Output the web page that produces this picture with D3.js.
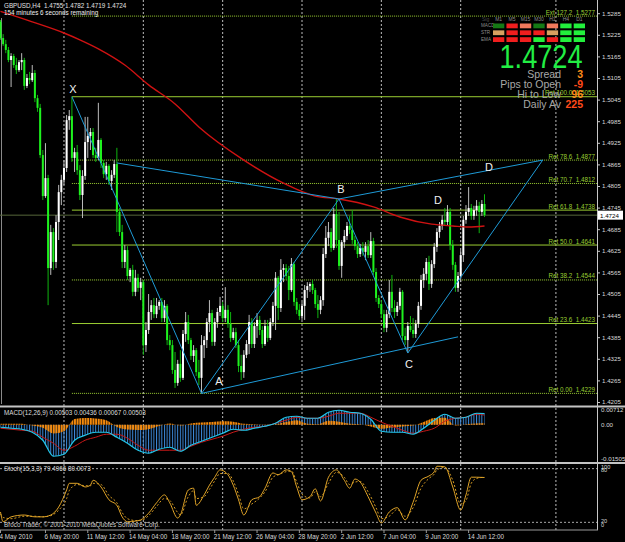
<!DOCTYPE html>
<html>
<head>
<meta charset="utf-8">
<script src="https://cdn.jsdelivr.net/npm/d3@7"></script>
<style>
  html, body { margin: 0; padding: 0; background: #000; }
  svg { display: block; }
</style>
</head>
<body>
<div id="chart"></div>
<script>
// GBPUSD H4 candles, 4 May 2010 00:00 .. 15 Jun 2010 12:00  [open, high, low, close]
const candles = [
  [1.5261,1.5266,1.5211,1.5216],[1.5216,1.5227,1.5194,1.5199],[1.5199,1.5211,1.5174,1.5183],[1.5183,1.5191,1.5149,1.5155],
  [1.5155,1.5174,1.5080,1.5166],[1.5166,1.5172,1.5133,1.5141],[1.5141,1.5161,1.5116,1.5127],[1.5127,1.5155,1.5122,1.5149],
  [1.5149,1.5174,1.5127,1.5155],[1.5155,1.5161,1.5072,1.5083],[1.5083,1.5116,1.5077,1.5105],[1.5105,1.5122,1.5088,1.5099],
  [1.5099,1.5141,1.5094,1.5119],[1.5119,1.5127,1.5038,1.5049],[1.5049,1.5058,1.5011,1.5022],[1.5022,1.5033,1.4883,1.4891],
  [1.4891,1.4905,1.4766,1.4777],[1.4777,1.4924,1.4772,1.4827],[1.4827,1.4836,1.4474,1.4577],[1.4577,1.4697,1.4558,1.4677],
  [1.4677,1.4688,1.4572,1.4594],[1.4594,1.4724,1.4577,1.4705],[1.4705,1.4808,1.4655,1.4788],[1.4788,1.4836,1.4752,1.4822],
  [1.4822,1.4877,1.4808,1.4855],[1.4855,1.5002,1.4844,1.4988],[1.4988,1.5016,1.4961,1.4999],[1.4999,1.5053,1.4872,1.4883],
  [1.4883,1.4911,1.4844,1.4899],[1.4899,1.4919,1.4836,1.4849],[1.4849,1.4863,1.4766,1.4780],[1.4780,1.4849,1.4716,1.4833],
  [1.4833,1.4997,1.4822,1.4927],[1.4927,1.4997,1.4883,1.4944],[1.4944,1.4966,1.4905,1.4955],[1.4955,1.4966,1.4883,1.4891],
  [1.4891,1.4911,1.4872,1.4883],[1.4883,1.5036,1.4877,1.4933],[1.4933,1.4938,1.4855,1.4869],[1.4869,1.4877,1.4827,1.4838],
  [1.4838,1.4872,1.4822,1.4861],[1.4861,1.4866,1.4808,1.4819],[1.4819,1.4849,1.4794,1.4836],[1.4836,1.4877,1.4827,1.4866],
  [1.4866,1.4911,1.4677,1.4733],[1.4733,1.4744,1.4666,1.4677],[1.4677,1.4697,1.4577,1.4594],[1.4594,1.4641,1.4577,1.4627],
  [1.4627,1.4638,1.4544,1.4555],[1.4555,1.4577,1.4538,1.4572],[1.4572,1.4586,1.4499,1.4511],[1.4511,1.4572,1.4499,1.4550],
  [1.4550,1.4561,1.4511,1.4522],[1.4522,1.4550,1.4488,1.4538],[1.4538,1.4544,1.4336,1.4363],[1.4363,1.4427,1.4344,1.4405],
  [1.4405,1.4505,1.4394,1.4455],[1.4455,1.4488,1.4433,1.4474],[1.4474,1.4494,1.4438,1.4449],[1.4449,1.4494,1.4438,1.4472],
  [1.4472,1.4488,1.4461,1.4483],[1.4483,1.4494,1.4427,1.4438],[1.4438,1.4488,1.4427,1.4472],[1.4472,1.4477,1.4363,1.4377],
  [1.4377,1.4391,1.4349,1.4363],[1.4363,1.4377,1.4283,1.4294],[1.4294,1.4344,1.4244,1.4258],[1.4258,1.4322,1.4250,1.4311],
  [1.4311,1.4349,1.4261,1.4272],[1.4272,1.4405,1.4266,1.4394],[1.4394,1.4455,1.4372,1.4427],[1.4427,1.4447,1.4366,1.4377],
  [1.4377,1.4383,1.4322,1.4333],[1.4333,1.4363,1.4316,1.4349],[1.4349,1.4355,1.4277,1.4288],[1.4288,1.4322,1.4252,1.4272],
  [1.4272,1.4391,1.4229,1.4363],[1.4363,1.4388,1.4327,1.4377],[1.4377,1.4438,1.4355,1.4427],[1.4427,1.4488,1.4399,1.4452],
  [1.4452,1.4461,1.4361,1.4372],[1.4372,1.4438,1.4361,1.4427],[1.4427,1.4466,1.4411,1.4455],[1.4455,1.4497,1.4444,1.4472],
  [1.4472,1.4483,1.4427,1.4438],[1.4438,1.4524,1.4427,1.4461],[1.4461,1.4474,1.4411,1.4422],[1.4422,1.4455,1.4372,1.4383],
  [1.4383,1.4411,1.4377,1.4399],[1.4399,1.4411,1.4355,1.4363],[1.4363,1.4377,1.4288,1.4305],[1.4305,1.4336,1.4266,1.4288],
  [1.4288,1.4349,1.4272,1.4336],[1.4336,1.4377,1.4327,1.4366],[1.4366,1.4447,1.4338,1.4427],[1.4427,1.4438,1.4355,1.4366],
  [1.4366,1.4427,1.4355,1.4416],[1.4416,1.4452,1.4383,1.4433],[1.4433,1.4444,1.4391,1.4405],[1.4405,1.4416,1.4355,1.4366],
  [1.4366,1.4433,1.4361,1.4416],[1.4416,1.4433,1.4372,1.4383],[1.4383,1.4438,1.4377,1.4427],[1.4427,1.4483,1.4416,1.4472],
  [1.4472,1.4566,1.4405,1.4550],[1.4550,1.4555,1.4433,1.4466],[1.4466,1.4602,1.4455,1.4572],[1.4572,1.4588,1.4538,1.4577],
  [1.4577,1.4588,1.4544,1.4555],[1.4555,1.4583,1.4488,1.4516],[1.4516,1.4605,1.4511,1.4588],[1.4588,1.4594,1.4472,1.4483],
  [1.4483,1.4494,1.4449,1.4461],[1.4461,1.4477,1.4433,1.4444],[1.4444,1.4483,1.4433,1.4472],[1.4472,1.4530,1.4433,1.4516],
  [1.4516,1.4538,1.4494,1.4527],[1.4527,1.4538,1.4511,1.4533],[1.4533,1.4544,1.4505,1.4516],[1.4516,1.4522,1.4466,1.4477],
  [1.4477,1.4502,1.4438,1.4461],[1.4461,1.4499,1.4449,1.4488],[1.4488,1.4633,1.4472,1.4616],[1.4616,1.4694,1.4605,1.4661],
  [1.4661,1.4705,1.4638,1.4677],[1.4677,1.4688,1.4622,1.4633],[1.4633,1.4744,1.4627,1.4727],[1.4727,1.4769,1.4633,1.4655],
  [1.4655,1.4733,1.4572,1.4583],[1.4583,1.4655,1.4550,1.4649],[1.4649,1.4683,1.4633,1.4666],[1.4666,1.4705,1.4655,1.4694],
  [1.4694,1.4722,1.4672,1.4683],[1.4683,1.4738,1.4644,1.4655],[1.4655,1.4666,1.4627,1.4638],[1.4638,1.4649,1.4605,1.4616],
  [1.4616,1.4644,1.4608,1.4633],[1.4633,1.4649,1.4611,1.4622],[1.4622,1.4649,1.4599,1.4638],[1.4638,1.4655,1.4605,1.4613],
  [1.4613,1.4677,1.4605,1.4652],[1.4652,1.4661,1.4558,1.4566],[1.4566,1.4577,1.4483,1.4494],[1.4494,1.4502,1.4466,1.4477],
  [1.4477,1.4488,1.4438,1.4449],[1.4449,1.4461,1.4399,1.4411],[1.4411,1.4461,1.4399,1.4449],[1.4449,1.4544,1.4438,1.4511],
  [1.4511,1.4558,1.4455,1.4466],[1.4466,1.4488,1.4438,1.4455],[1.4455,1.4483,1.4444,1.4472],[1.4472,1.4522,1.4461,1.4511],
  [1.4511,1.4516,1.4377,1.4388],[1.4388,1.4411,1.4363,1.4377],[1.4377,1.4427,1.4341,1.4416],[1.4416,1.4444,1.4399,1.4405],
  [1.4405,1.4438,1.4383,1.4394],[1.4394,1.4433,1.4383,1.4422],[1.4422,1.4483,1.4411,1.4472],[1.4472,1.4558,1.4461,1.4544],
  [1.4544,1.4577,1.4522,1.4561],[1.4561,1.4605,1.4544,1.4594],[1.4594,1.4611,1.4516,1.4533],[1.4533,1.4599,1.4522,1.4588],
  [1.4588,1.4647,1.4577,1.4636],[1.4636,1.4688,1.4622,1.4677],[1.4677,1.4705,1.4661,1.4694],[1.4694,1.4724,1.4683,1.4711],
  [1.4711,1.4744,1.4694,1.4705],[1.4705,1.4752,1.4694,1.4733],[1.4733,1.4744,1.4627,1.4641],[1.4641,1.4655,1.4572,1.4586],
  [1.4586,1.4594,1.4511,1.4522],[1.4522,1.4566,1.4511,1.4555],[1.4555,1.4627,1.4538,1.4613],[1.4613,1.4722,1.4594,1.4711],
  [1.4711,1.4752,1.4700,1.4733],[1.4733,1.4802,1.4722,1.4744],[1.4744,1.4755,1.4711,1.4722],[1.4722,1.4750,1.4711,1.4738],
  [1.4738,1.4766,1.4722,1.4750],[1.4750,1.4761,1.4674,1.4733],[1.4733,1.4766,1.4722,1.4755],[1.4755,1.4782,1.4719,1.4724]
];

// red moving average, read at these bars
const maIdx = [0, 12, 24, 30, 37, 47, 56, 66, 75, 92, 107, 119, 128, 141, 151, 163, 171, 177, 183];
const maVals = [1.5290, 1.5261, 1.5230, 1.5211, 1.5186, 1.5141, 1.5086, 1.5033, 1.4969, 1.4877,
  1.4813, 1.4777, 1.4769, 1.4747, 1.4719, 1.4699, 1.4694, 1.4691, 1.4694];

// MACD(12,26,9) read every 4 bars
const macdIdx = [0,4,8,12,16,20,24,28,32,36,40,44,48,52,56,60,64,68,72,76,80,84,88,92,96,100,
  104,108,112,116,120,124,128,132,136,140,144,148,152,156,160,164,168,172,176,180,183];
const macdMain = [-0.00113,-0.00158,-0.00204,-0.00339,-0.00701,-0.01425,-0.01335,-0.00701,-0.00475,-0.00339,
  -0.00339,-0.00566,-0.00837,-0.01154,-0.01290,-0.01109,-0.01018,-0.01199,-0.00928,-0.00747,
  -0.00566,-0.00385,-0.00204,-0.00249,-0.00158,-0.00068,0.00068,0.00339,0.00385,0.00294,
  0.00294,0.00566,0.00656,0.00566,0.00520,0.00249,-0.00294,-0.00339,-0.00339,-0.00430,
  -0.00158,0.00204,0.00475,0.00294,0.00339,0.00520,0.00503];
const macdSignal = [-0.00158,-0.00204,-0.00249,-0.00294,-0.00566,-0.00837,-0.01154,-0.00973,-0.00701,-0.00566,
  -0.00430,-0.00430,-0.00611,-0.00928,-0.01154,-0.01154,-0.01154,-0.01154,-0.00973,-0.00792,
  -0.00656,-0.00520,-0.00339,-0.00204,-0.00113,-0.00068,0.00068,0.00204,0.00339,0.00294,
  0.00294,0.00385,0.00520,0.00520,0.00520,0.00339,0.00113,-0.00068,-0.00249,-0.00385,
  -0.00294,-0.00158,0.00158,0.00294,0.00339,0.00475,0.00436];
const macdOsma = [0.0004,0.0005,0.0004,-0.0004,-0.0014,-0.0040,-0.0030,0.0026,0.0030,0.0028,
  0.0020,-0.0010,-0.0022,-0.0024,-0.0020,-0.0006,0.0006,-0.0004,0.0006,0.0010,
  0.0012,0.0016,0.0014,0.0004,0.0002,0.0001,0.0002,0.0012,0.0020,0.0004,
  0.0002,0.0018,0.0014,0.0005,0.0002,-0.0008,-0.0018,-0.0012,-0.0008,-0.0004,
  0.0012,0.0030,0.0032,-0.0004,0.0002,0.0006,0.00067];

// Stoch(15,3,3) read at turning points
const stochIdx = [0,1,4,9,13,16,19,22,25,26,29,32,34,35,38,41,44,46,48,51,53,56,59,62,64,67,68,71,73,74,
  77,79,81,83,86,88,90,92,95,98,100,103,105,108,110,112,114,117,119,121,124,127,130,132,134,136,139,142,144,147,
  150,153,156,159,162,164,165,168,171,174,176,178,180,183];
const stochK = [23,7,15,18,15,15,18,31,59,70,70,64,67,75,64,43,34,15,7,8,10,21,38,51,38,13,18,59,62,34,
  51,67,80,92,84,67,43,18,43,48,62,87,84,92,89,64,43,48,61,41,80,92,75,62,77,72,48,21,5,23,
  30,10,39,75,82,89,98,97,64,26,51,80,80,79.5];
const stochD = [20,14,12,16,16,15,17,26,45,58,68,66,66,70,68,50,38,22,12,9,9,17,32,45,42,22,18,48,58,45,
  48,60,74,86,86,74,52,28,36,46,56,80,84,89,90,72,52,46,56,48,70,88,80,68,72,73,56,30,12,16,
  27,16,30,62,78,85,92,96,75,36,42,70,78,80];
const stochLevels = [94, 6];
const stochLabels = [["100", 97], ["80", 91], ["20", 9], ["0", 2]];

const priceTicks = [1.5285,1.5225,1.5165,1.5105,1.5045,1.4985,1.4925,1.4865,1.4805,1.4745,
  1.4685,1.4625,1.4565,1.4505,1.4445,1.4385,1.4325,1.4265,1.4205];
const macdTicks = [0.00712, 0, -0.01505];

const fibLevels = [
  ["Ext 127.2", 1.5277, true], ["Ret 100.0", 1.5053, false], ["Ret 78.6", 1.4877, true],
  ["Ret 70.7", 1.4812, true], ["Ret 61.8", 1.4738, false], ["Ret 50.0", 1.4641, false],
  ["Ret 38.2", 1.4544, true], ["Ret 23.6", 1.4423, false], ["Ret 0.00", 1.4229, true]
];

// harmonic pattern points [bar, price]
const patternPts = {
  X: [27, 1.5053], A: [76, 1.4229], B: [128, 1.4769], C: [154, 1.4341],
  D: [205, 1.4877], P: [44, 1.4869], E: [173, 1.4386]
};
const patternLegs = [["X","A"],["A","B"],["B","C"],["C","D"],["B","D"],["P","B"],["A","E"]];
const patternLabels = [["X",27.4,1.5074],["A",82.6,1.4263],["B",128.7,1.4797],
  ["C",154.4,1.4311],["D",165.4,1.4766],["D",184.7,1.4857]];

const dateLabels = [[0,"4 May 2010"],[17,"6 May 20:00"],[33,"11 May 12:00"],[49,"14 May 04:00"],
  [65,"18 May 20:00"],[81,"21 May 12:00"],[97,"26 May 04:00"],[113,"28 May 20:00"],
  [129,"2 Jun 12:00"],[145,"7 Jun 04:00"],[161,"9 Jun 20:00"],[177,"14 Jun 12:00"]];
const gridBars = [24, 54, 84, 114, 144, 174, 210];

// signal dashboard
const tfs = ["M1","M5","M15","M30","H1","H4","D1"];
const sigRows = ["MACD","STR","EMA"];
const sigStates = [
  ["wup","dn","wdn","wup","wdn","up","up"],
  ["flat","dn","dn","dn","flat","up","up"],
  ["dn","dn","dn","up","dn","up","up"]
];
const infoRows = [["Spread","3"],["Pips to Open","-9"],["Hi to Low","96"],["Daily Av","225"]];
const infoColors = ["#ff8c1a","#ff4a1a","#ff8c1a","#ff4a1a"];

const lastPrice = 1.4724;

// Dimensions
const width = 625;
const height = 542;
const plotRight = 597;
const font = "'Liberation Sans', Arial, sans-serif";

const x = d3.scaleLinear().domain([0, 183]).range([0.5, 484.5]);
const y = d3.scaleLinear().domain([1.4205, 1.5285]).range([402, 13.2]);
const yMacd = d3.scaleLinear().domain([-0.01505, 0.00712]).range([458, 409]);
const yStoch = d3.scaleLinear().domain([0, 100]).range([526, 465]);

const svg = d3.select("#chart").append("svg")
  .attr("width", width).attr("height", height)
  .style("background", "#000")
  .style("font-family", font);

const defs = svg.append("defs");
defs.append("clipPath").attr("id", "clipMain").append("rect")
  .attr("x", 0).attr("y", 0).attr("width", plotRight).attr("height", 404);
defs.append("clipPath").attr("id", "clipMacd").append("rect")
  .attr("x", 0).attr("y", 408).attr("width", plotRight).attr("height", 53);
defs.append("clipPath").attr("id", "clipStoch").append("rect")
  .attr("x", 0).attr("y", 464).attr("width", plotRight).attr("height", 65);

const step = x(1) - x(0);
const blueBars = defs.append("pattern").attr("id", "blueBars")
  .attr("patternUnits", "userSpaceOnUse").attr("width", step).attr("height", 8);
blueBars.append("rect").attr("x", 0).attr("width", 1).attr("height", 8).attr("fill", "#3d88d8");
const orangeBars = defs.append("pattern").attr("id", "orangeBars")
  .attr("patternUnits", "userSpaceOnUse").attr("width", step).attr("height", 8);
orangeBars.append("rect").attr("x", 0).attr("width", 2).attr("height", 8).attr("fill", "#f58a0c");

// vertical grid
svg.append("g").selectAll("line").data(gridBars).join("line")
  .attr("x1", d => x(d)).attr("x2", d => x(d))
  .attr("y1", 0).attr("y2", 530)
  .attr("stroke", "#bdbdbd").attr("stroke-dasharray", "2,2");

const main = svg.append("g").attr("clip-path", "url(#clipMain)");

main.append("line")
  .attr("x1", 1.5).attr("x2", 1.5).attr("y1", 18).attr("y2", 404)
  .attr("stroke", "#8a8a8a");

// bid line
main.append("line")
  .attr("x1", 0).attr("x2", plotRight)
  .attr("y1", y(lastPrice)).attr("y2", y(lastPrice))
  .attr("stroke", "#55663a");

// fibonacci levels
const fibG = main.append("g");
fibG.selectAll("line").data(fibLevels).join("line")
  .attr("x1", x(patternPts.X[0])).attr("x2", plotRight)
  .attr("y1", d => y(d[1])).attr("y2", d => y(d[1]))
  .attr("stroke", "#9acd32")
  .attr("stroke-dasharray", d => d[2] ? "1,1" : null);
fibG.selectAll("text").data(fibLevels).join("text")
  .attr("x", plotRight - 2).attr("y", d => y(d[1]) - 1.5)
  .attr("text-anchor", "end").attr("font-size", "6.3px").attr("fill", "#9acd32")
  .attr("xml:space", "preserve")
  .text(d => `${d[0]}  ${d[1].toFixed(4)}`);

// candles
const bull = d => d[3] >= d[0];
main.append("g").selectAll("line").data(candles).join("line")
  .attr("x1", (d, i) => x(i)).attr("x2", (d, i) => x(i))
  .attr("y1", d => y(d[1])).attr("y2", d => y(d[2]))
  .attr("stroke", d => bull(d) ? "#bcbcbc" : "#0fb40f");
main.append("g").selectAll("rect").data(candles).join("rect")
  .attr("x", (d, i) => x(i) - 1).attr("width", 2)
  .attr("y", d => y(Math.max(d[0], d[3])))
  .attr("height", d => Math.max(1, Math.abs(y(d[0]) - y(d[3]))))
  .attr("fill", d => bull(d) ? "#ffffff" : "#1ef21e");

// moving average
main.append("path")
  .datum(maIdx.map((b, k) => [b, maVals[k]]))
  .attr("fill", "none").attr("stroke", "#d01212").attr("stroke-width", 1.4)
  .attr("d", d3.line().x(d => x(d[0])).y(d => y(d[1])).curve(d3.curveMonotoneX));

// pattern lines
main.append("g").selectAll("line").data(patternLegs).join("line")
  .attr("x1", d => x(patternPts[d[0]][0])).attr("y1", d => y(patternPts[d[0]][1]))
  .attr("x2", d => x(patternPts[d[1]][0])).attr("y2", d => y(patternPts[d[1]][1]))
  .attr("stroke", "#1e9ad6").attr("stroke-width", 1);

main.append("g").selectAll("text").data(patternLabels).join("text")
  .attr("x", d => x(d[1])).attr("y", d => y(d[2]))
  .attr("text-anchor", "middle").attr("dominant-baseline", "central")
  .attr("font-size", "11px").attr("fill", "#f0f0f0")
  .text(d => d[0]);

// price axis
svg.append("g")
  .attr("transform", `translate(${plotRight},0)`)
  .call(d3.axisRight(y).tickValues(priceTicks).tickFormat(d3.format(".4f")).tickSize(3))
  .call(g => g.select(".domain").attr("stroke", "#c8c8c8").attr("d", "M0.5,0V530"))
  .call(g => g.selectAll(".tick line").attr("stroke", "#c8c8c8"))
  .call(g => g.selectAll(".tick text").attr("fill", "#d8d8d8").attr("font-size", "6.2px")
    .attr("font-family", font).attr("x", 5));

// current price box
svg.append("rect")
  .attr("x", plotRight + 1).attr("y", y(lastPrice) - 4.5).attr("width", 25).attr("height", 9)
  .attr("fill", "#fff");
svg.append("text")
  .attr("x", plotRight + 3).attr("y", y(lastPrice)).attr("dominant-baseline", "central")
  .attr("font-size", "6.2px").attr("fill", "#000")
  .text(lastPrice.toFixed(4));

// header texts
svg.append("text").attr("x", 4).attr("y", 8).attr("font-size", "6.3px").attr("fill", "#e2e2e2")
  .attr("xml:space", "preserve")
  .text("GBPUSD,H4  1.4755 1.4782 1.4719 1.4724");
svg.append("text").attr("x", 4).attr("y", 15).attr("font-size", "6.3px").attr("fill", "#f0f0f0")
  .text("154 minutes 6 seconds remaining");

// signal dashboard
const colX = d3.scaleBand().domain(tfs).range([493, 585]).paddingInner(0.16);
const rowY = d3.scaleBand().domain(sigRows).range([23.5, 42]).paddingInner(0.3);
const stateColor = { up: "#22f03c", dn: "#f01e1e", wup: "#157a15", wdn: "#f27a5c", flat: "#d8a060" };
const dash = svg.append("g");
dash.selectAll("text.tf").data(tfs).join("text")
  .attr("x", d => colX(d) + colX.bandwidth() / 2).attr("y", 21)
  .attr("text-anchor", "middle").attr("font-size", "5px").attr("fill", "#8c8c8c")
  .text(d => d);
dash.append("text").attr("x", 482).attr("y", 21).attr("font-size", "5px").attr("fill", "#444")
  .text("Sig");
dash.selectAll("text.row").data(sigRows).join("text")
  .attr("x", 481).attr("y", d => rowY(d) + rowY.bandwidth() / 2).attr("dominant-baseline", "central")
  .attr("font-size", "4.6px").attr("fill", "#8c8c8c")
  .text(d => d);
sigStates.forEach((row, r) => {
  dash.append("g").selectAll("rect").data(row).join("rect")
    .attr("x", (d, c) => colX(tfs[c])).attr("width", colX.bandwidth())
    .attr("y", rowY(sigRows[r])).attr("height", rowY.bandwidth())
    .attr("fill", d => stateColor[d]);
});

svg.append("text")
  .attr("x", 541).attr("y", 67.5).attr("text-anchor", "middle")
  .attr("font-size", "33px").attr("fill", "#22ee44")
  .attr("textLength", 83).attr("lengthAdjust", "spacingAndGlyphs")
  .text(lastPrice.toFixed(4));

infoRows.forEach((r, k) => {
  const yy = 77.5 + k * 10.2;
  svg.append("text").attr("x", 561).attr("y", yy).attr("text-anchor", "end")
    .attr("font-size", "10.5px").attr("fill", "#a8a8a8").text(r[0]);
  svg.append("text").attr("x", 583).attr("y", yy).attr("text-anchor", "end")
    .attr("font-size", "10.5px").attr("font-weight", "bold").attr("fill", infoColors[k]).text(r[1]);
});

// panel separators
[405.5, 462].forEach(v => {
  svg.append("rect").attr("x", 0).attr("y", v).attr("width", width).attr("height", 2)
    .attr("fill", "#c4c4c4");
});
svg.append("line").attr("x1", 0).attr("x2", plotRight + 1).attr("y1", 530).attr("y2", 530)
  .attr("stroke", "#9a9a9a");

// MACD panel
const macdData = macdIdx.map((b, k) => ({ b, m: macdMain[k], s: macdSignal[k], o: macdOsma[k] }));
const macdG = svg.append("g").attr("clip-path", "url(#clipMacd)");
macdG.append("path").datum(macdData)
  .attr("fill", "url(#blueBars)")
  .attr("d", d3.area().x(d => x(d.b)).y0(yMacd(0)).y1(d => yMacd(d.m)).curve(d3.curveMonotoneX));
macdG.append("path").datum(macdData)
  .attr("fill", "url(#orangeBars)")
  .attr("d", d3.area().x(d => x(d.b)).y0(yMacd(0)).y1(d => yMacd(d.o)).curve(d3.curveMonotoneX));
macdG.append("path").datum(macdData)
  .attr("fill", "none").attr("stroke", "#c81818").attr("stroke-width", 1)
  .attr("d", d3.line().x(d => x(d.b)).y(d => yMacd(d.s)).curve(d3.curveMonotoneX));
macdG.append("path").datum(macdData)
  .attr("fill", "none").attr("stroke", "#22c6ea").attr("stroke-width", 1.2)
  .attr("d", d3.line().x(d => x(d.b)).y(d => yMacd(d.m)).curve(d3.curveMonotoneX));

svg.append("text").attr("x", 4).attr("y", 415).attr("font-size", "6.3px").attr("fill", "#dcdcdc")
  .text("MACD(12,26,9) 0.00503 0.00436 0.00067 0.00503");
svg.append("g").selectAll("text").data(macdTicks).join("text")
  .attr("x", plotRight + 4).attr("y", d => yMacd(d)).attr("dominant-baseline", "central")
  .attr("font-size", "6.2px").attr("fill", "#d8d8d8")
  .text(d => d === 0 ? "0.00" : d.toFixed(5));

// Stochastic panel
const stochData = stochIdx.map((b, k) => ({ b, k: stochK[k], d: stochD[k] }));
const stochG = svg.append("g").attr("clip-path", "url(#clipStoch)");
stochG.selectAll("line").data(stochLevels).join("line")
  .attr("x1", 0).attr("x2", plotRight)
  .attr("y1", d => yStoch(d)).attr("y2", d => yStoch(d))
  .attr("stroke", "#a8a8a8").attr("stroke-dasharray", "2,2");
stochG.append("path").datum(stochData)
  .attr("fill", "none").attr("stroke", "#d49a22").attr("stroke-width", 1).attr("stroke-dasharray", "2,2")
  .attr("d", d3.line().x(d => x(d.b)).y(d => yStoch(d.d)).curve(d3.curveMonotoneX));
stochG.append("path").datum(stochData)
  .attr("fill", "none").attr("stroke", "#e0a428").attr("stroke-width", 1)
  .attr("d", d3.line().x(d => x(d.b)).y(d => yStoch(d.k)).curve(d3.curveMonotoneX));

svg.append("text").attr("x", 4).attr("y", 471).attr("font-size", "6.3px").attr("fill", "#dcdcdc")
  .text("Stoch(15,3,3) 79.4966 80.0073");
svg.append("g").selectAll("text").data(stochLabels).join("text")
  .attr("x", plotRight + 4).attr("y", d => yStoch(d[1])).attr("dominant-baseline", "central")
  .attr("font-size", "5.6px").attr("fill", "#d8d8d8")
  .text(d => d[0]);

svg.append("text").attr("x", 4).attr("y", 527).attr("font-size", "6.3px").attr("fill", "#cfcfcf")
  .text("Broco Trader, \u00a9 2001-2010 MetaQuotes Software Corp.");

// date axis
const dateG = svg.append("g");
dateG.selectAll("line").data(dateLabels).join("line")
  .attr("x1", d => x(d[0])).attr("x2", d => x(d[0]))
  .attr("y1", 530).attr("y2", 533).attr("stroke", "#9a9a9a");
dateG.selectAll("text").data(dateLabels).join("text")
  .attr("x", d => x(d[0]) - 1).attr("y", 539)
  .attr("font-size", "6.3px").attr("fill", "#d8d8d8")
  .text(d => d[1]);
</script>
</body>
</html>
